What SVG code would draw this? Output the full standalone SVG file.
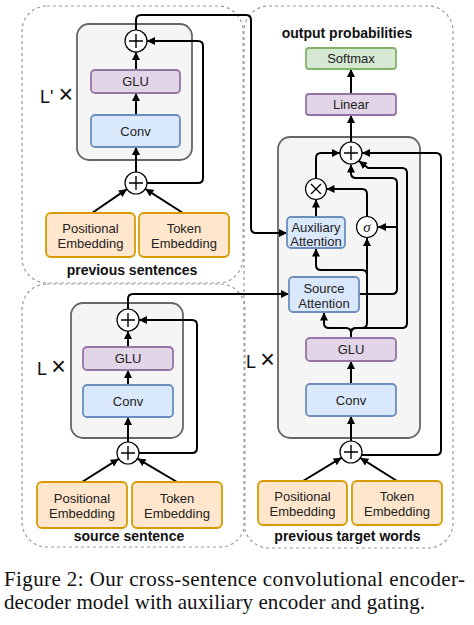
<svg xmlns="http://www.w3.org/2000/svg" width="474" height="625" viewBox="0 0 474 625">
<style>
.panel{fill:none;stroke:#9a9a9a;stroke-width:1.2;stroke-dasharray:3 3}
.grp{fill:#f5f5f5;stroke:#666;stroke-width:1.8}
.emb{fill:#ffe6cc;stroke:#d79b00;stroke-width:1.8}
.pur{fill:#e1d5e7;stroke:#9673a6;stroke-width:1.8}
.blu{fill:#dae8fc;stroke:#6c8ebf;stroke-width:1.8}
.grn{fill:#d5e8d4;stroke:#82b366;stroke-width:1.8}
.op{fill:#fff;stroke:#000;stroke-width:1.2}
.sign{stroke:#000;stroke-width:1.4;fill:none}
.t{font-family:"Liberation Sans",Arial,sans-serif;font-size:13px;fill:#222;text-anchor:middle}
.b{font-family:"Liberation Sans",Arial,sans-serif;font-size:14px;font-weight:bold;fill:#111;text-anchor:middle}
.lx{font-family:"Liberation Sans",Arial,sans-serif;font-size:18px;fill:#111}
.x{font-size:25px}
.cap{font-family:"Liberation Serif","Times New Roman",serif;font-size:21px;fill:#111}
.c{fill:none;stroke:#000;stroke-width:2;marker-end:url(#ah)}
</style>
<defs>
<marker id="ah" viewBox="0 0 10 10" refX="10" refY="5" markerWidth="8" markerHeight="8" markerUnits="userSpaceOnUse" orient="auto"><path d="M0,0 L10,5 L0,10 z" fill="#000"/></marker>
</defs>
<rect width="474" height="625" fill="#fff"/>

<g id="panels">
<rect class="panel" x="22" y="6" width="221" height="277" rx="25"/>
<rect class="panel" x="22" y="284" width="223" height="263" rx="25"/>
<rect class="panel" x="244" y="6" width="209" height="542" rx="25"/>
</g>

<g id="containers">
<rect class="grp" x="77" y="24" width="115" height="136" rx="12"/>
<rect class="grp" x="71" y="303" width="112" height="135" rx="12"/>
<rect class="grp" x="278" y="137" width="142" height="301" rx="12"/>
</g>

<g id="connectors">
<path class="c" d="M92,213 L126.9,189.2"/>
<path class="c" d="M183,213 L145.3,188.9"/>
<path class="c" d="M136,172 V147"/>
<path class="c" d="M136,115 V93"/>
<path class="c" d="M136,70 V52"/>
<path class="c" d="M147,183 H198 q5,0 5,-5 V46 q0,-5 -5,-5 H147"/>
<path class="c" d="M136,30 V20 q0,-5 5,-5 H246 q5,0 5,5 V228 q0,5 5,5 H287"/>
<path class="c" d="M82,482 L118.7,458.9"/>
<path class="c" d="M177,482 L137.5,458.6"/>
<path class="c" d="M128,442 V417"/>
<path class="c" d="M128,385 V370"/>
<path class="c" d="M128,347 V331"/>
<path class="c" d="M139,453 H192 q5,0 5,-5 V325 q0,-5 -5,-5 H139"/>
<path class="c" d="M128,309 V299 q0,-5 5,-5 H289"/>
<path class="c" d="M303,481 L341.6,457.7"/>
<path class="c" d="M397,481 L360.3,457.9"/>
<path class="c" d="M351,441 V416"/>
<path class="c" d="M351,384 V361"/>
<path class="c" d="M361.6,455 H436 q5,0 5,-5 V158 q0,-5 -5,-5 H362"/>
<path class="c" d="M351,338 V333 q0,-5 -5,-5 H329 q-5,0 -5,-5 V312.5"/>
<path class="c" d="M351,338 V333 q0,-5 5,-5 H362 q5,0 5,-5 V238"/>
<path class="c" d="M351,333 q0,-5 5,-5 H402 q5,0 5,-5 V173 q0,-5 -5,-5 H368 L359,161"/>
<path class="c" d="M367,275 q0,-5 -5,-5 H321 q-5,0 -5,-5 V248.5"/>
<path class="c" d="M359,294 H392 q5,0 5,-5 V183 q0,-5 -5,-5 H356 q-5,0 -5,-5 V164.5"/>
<path class="c" d="M397,227 H378"/>
<path class="c" d="M316,217 V199.5"/>
<path class="c" d="M367,216.5 V194 q0,-5 -5,-5 H326.5"/>
<path class="c" d="M316,178.5 V158 q0,-5 5,-5 H340"/>
<path class="c" d="M351,142 V115"/>
<path class="c" d="M351,94 V69"/>
</g>

<g id="tl-plus-top"><circle class="op" cx="136" cy="41" r="11"/><path class="sign" d="M129,41 H143 M136,34 V48"/></g>
<g id="tl-glu"><rect class="pur" x="91" y="70" width="89" height="23" rx="4"/><text class="t" x="135.5" y="86">GLU</text></g>
<g id="tl-conv"><rect class="blu" x="91" y="115" width="89" height="32" rx="4"/><text class="t" x="135.5" y="135.5">Conv</text></g>
<g id="tl-plus-bottom"><circle class="op" cx="136" cy="183" r="11"/><path class="sign" d="M129,183 H143 M136,176 V190"/></g>
<g id="tl-pos"><rect class="emb" x="46" y="213" width="89" height="44" rx="5"/><text class="t" x="90.5" y="233">Positional</text><text class="t" x="90.5" y="248">Embedding</text></g>
<g id="tl-tok"><rect class="emb" x="139" y="213" width="90" height="44" rx="5"/><text class="t" x="184" y="233">Token</text><text class="t" x="184" y="248">Embedding</text></g>
<g id="tl-labels"><text class="lx" x="40" y="103">L' <tspan class="x">×</tspan></text><text class="b" x="132" y="275">previous sentences</text></g>

<g id="bl-plus-top"><circle class="op" cx="128" cy="320" r="11"/><path class="sign" d="M121,320 H135 M128,313 V327"/></g>
<g id="bl-glu"><rect class="pur" x="83" y="347" width="90" height="23" rx="4"/><text class="t" x="128" y="363">GLU</text></g>
<g id="bl-conv"><rect class="blu" x="83" y="385" width="90" height="32" rx="4"/><text class="t" x="128" y="405.5">Conv</text></g>
<g id="bl-plus-bottom"><circle class="op" cx="128" cy="453" r="11"/><path class="sign" d="M121,453 H135 M128,446 V460"/></g>
<g id="bl-pos"><rect class="emb" x="37" y="482" width="90" height="46" rx="5"/><text class="t" x="82" y="503">Positional</text><text class="t" x="82" y="518">Embedding</text></g>
<g id="bl-tok"><rect class="emb" x="132" y="482" width="90" height="46" rx="5"/><text class="t" x="177" y="503">Token</text><text class="t" x="177" y="518">Embedding</text></g>
<g id="bl-labels"><text class="lx" x="37" y="375">L <tspan class="x">×</tspan></text><text class="b" x="129" y="541">source sentence</text></g>

<g id="r-title"><text class="b" x="347" y="38">output probabilities</text></g>
<g id="r-softmax"><rect class="grn" x="306" y="48" width="90" height="21" rx="3"/><text class="t" x="351" y="63">Softmax</text></g>
<g id="r-linear"><rect class="pur" x="306" y="94" width="90" height="21" rx="3"/><text class="t" x="351" y="109">Linear</text></g>
<g id="r-plus-top"><circle class="op" cx="351" cy="153" r="11"/><path class="sign" d="M344,153 H358 M351,146 V160"/></g>
<g id="r-mult"><circle class="op" cx="316" cy="189" r="10.5"/><path class="sign" d="M311,184 L321,194 M321,184 L311,194"/></g>
<g id="r-sigma"><circle class="op" cx="367" cy="227" r="10.5"/><text x="367" y="232" style="font-family:'Liberation Serif',serif;font-style:italic;font-size:15px;text-anchor:middle;fill:#111">σ</text></g>
<g id="r-aux"><rect class="blu" x="287" y="217" width="58" height="31" rx="4"/><text class="t" x="316" y="231.5">Auxiliary</text><text class="t" x="316" y="245.5">Attention</text></g>
<g id="r-src"><rect class="blu" x="289" y="277" width="70" height="35" rx="4"/><text class="t" x="324" y="293">Source</text><text class="t" x="324" y="308">Attention</text></g>
<g id="r-glu"><rect class="pur" x="306" y="338" width="90" height="23" rx="4"/><text class="t" x="351" y="354">GLU</text></g>
<g id="r-conv"><rect class="blu" x="306" y="384" width="90" height="32" rx="4"/><text class="t" x="351" y="404.5">Conv</text></g>
<g id="r-plus-bottom"><circle class="op" cx="351" cy="452" r="11"/><path class="sign" d="M344,452 H358 M351,445 V459"/></g>
<g id="r-pos"><rect class="emb" x="258" y="481" width="89" height="44" rx="5"/><text class="t" x="302.5" y="501">Positional</text><text class="t" x="302.5" y="516">Embedding</text></g>
<g id="r-tok"><rect class="emb" x="352" y="481" width="90" height="44" rx="5"/><text class="t" x="397" y="501">Token</text><text class="t" x="397" y="516">Embedding</text></g>
<g id="r-labels"><text class="lx" x="246" y="368">L <tspan class="x">×</tspan></text><text class="b" x="347.5" y="541">previous target words</text></g>

<g id="caption">
<text class="cap" x="4" y="586" textLength="461" lengthAdjust="spacing">Figure 2:  Our cross-sentence convolutional encoder-</text>
<text class="cap" x="4" y="609" textLength="421" lengthAdjust="spacing">decoder model with auxiliary encoder and gating.</text>
</g>
</svg>
